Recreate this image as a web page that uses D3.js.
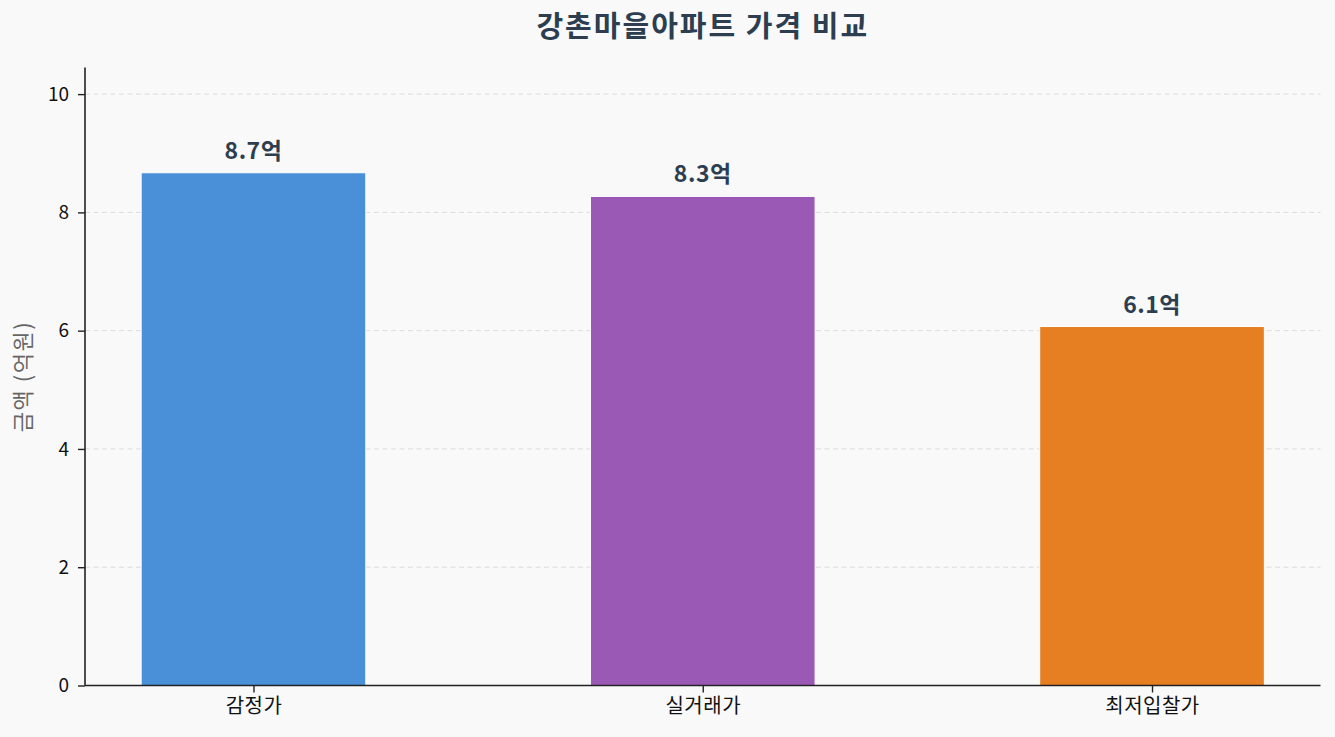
<!DOCTYPE html>
<html><head><meta charset="utf-8">
<script src="https://cdn.jsdelivr.net/npm/d3@7"></script>
<style>
html,body{margin:0;padding:0;background:#f9f9f9;}
text{font-family:"Noto Sans CJK KR","Noto Sans",sans-serif;}
</style></head>
<body>
<svg id="chart" width="1335" height="737"></svg>
<script>
const categories = ["감정가", "실거래가", "최저입찰가"];
const values = [8.67, 8.27, 6.07];
const valueLabels = ["8.7억", "8.3억", "6.1억"];
const colors = ["#4a90d9", "#9b59b6", "#e67e22"];
const yTicks = [0, 2, 4, 6, 8, 10];
const title = "강촌마을아파트 가격 비교";
const yLabel = "금액 (억원)";

const W = 1335, H = 737;
const m = {left: 85, right: 1335 - 1320.5, top: 67.5, bottom: 737 - 685.5};
const FONT = '"Noto Sans CJK KR","Noto Sans",sans-serif';
const svg = d3.select("#chart");
svg.append("rect").attr("width", W).attr("height", H).attr("fill", "#f9f9f9");

const x = d3.scaleLinear().domain([-0.375, 2.375]).range([m.left, W - m.right]);
const y = d3.scaleLinear().domain([0, 10.45]).range([H - m.bottom, m.top]);
const bw = 0.5;

// grid
svg.append("g").selectAll("line").data(yTicks.filter(d => d > 0)).join("line")
  .attr("x1", m.left).attr("x2", W - m.right)
  .attr("y1", d => y(d)).attr("y2", d => y(d))
  .attr("stroke", "#dcdcdc").attr("stroke-width", 1).attr("stroke-dasharray", "5,3.5");

// bars
svg.append("g").selectAll("rect").data(values).join("rect")
  .attr("x", (d, i) => x(i - bw / 2))
  .attr("width", (d, i) => x(i + bw / 2) - x(i - bw / 2))
  .attr("y", d => y(d))
  .attr("height", d => y(0) - y(d))
  .attr("fill", (d, i) => colors[i])
  .attr("stroke", "#ffffff").attr("stroke-width", 1);

// value labels
svg.append("g").selectAll("text").data(values).join("text")
  .attr("x", (d, i) => x(i))
  .attr("y", d => y(d) - 14)
  .attr("text-anchor", "middle")
  .attr("font-size", 23).attr("font-weight", "bold").attr("fill", "#2c3e50")
  .attr("letter-spacing", 0.5)
  .text((d, i) => valueLabels[i]);

// axes
const yAxis = d3.axisLeft(y).tickValues(yTicks).tickSize(7).tickPadding(9).tickFormat(d3.format("d"));
const gy = svg.append("g").attr("transform", `translate(${m.left},0)`).call(yAxis);
gy.select(".domain").attr("d", `M0,${m.top}V${H - m.bottom}`).attr("stroke", "#222").attr("stroke-width", 1.6);
gy.selectAll(".tick line").attr("stroke", "#222").attr("stroke-width", 1.4);
gy.selectAll(".tick text").attr("font-size", 19).attr("fill", "#111").style("font-family", FONT);

const xAxis = d3.axisBottom(x).tickValues([0, 1, 2]).tickSize(7).tickPadding(6).tickFormat(i => categories[i]);
const gx = svg.append("g").attr("transform", `translate(0,${H - m.bottom})`).call(xAxis);
gx.select(".domain").attr("d", `M${m.left},0H${W - m.right}`).attr("stroke", "#222").attr("stroke-width", 1.6);
gx.selectAll(".tick line").attr("stroke", "#222").attr("stroke-width", 1.4);
gx.selectAll(".tick text").attr("font-size", 20).attr("fill", "#111").attr("letter-spacing", 0.5).style("font-family", FONT);

// y label
svg.append("text")
  .attr("transform", `translate(31,${(m.top + H - m.bottom) / 2}) rotate(-90)`)
  .attr("text-anchor", "middle")
  .attr("font-size", 22).attr("fill", "#666").attr("letter-spacing", 1.5)
  .text(yLabel);

// title
svg.append("text")
  .attr("x", (m.left + W - m.right) / 2).attr("y", 37)
  .attr("text-anchor", "middle")
  .attr("font-size", 29).attr("font-weight", "bold").attr("fill", "#2c3e50")
  .attr("letter-spacing", 2)
  .text(title);
</script>
</body></html>
